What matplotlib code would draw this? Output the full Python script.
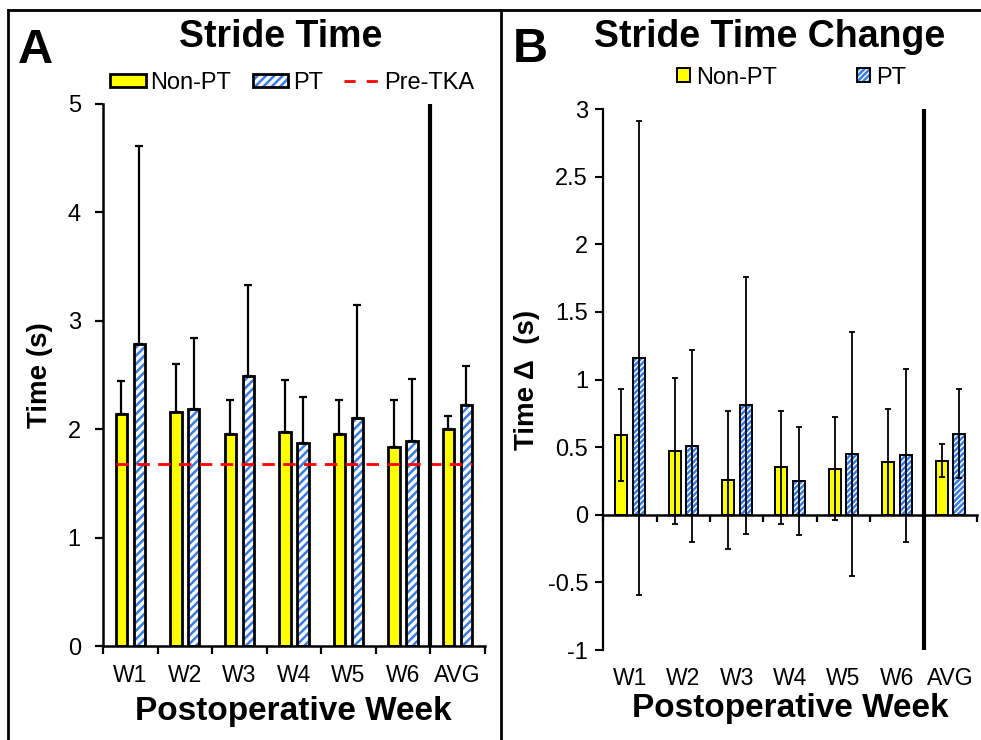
import numpy as np
import matplotlib
matplotlib.use("Agg")
import matplotlib.pyplot as plt
from matplotlib.lines import Line2D
from matplotlib.transforms import blended_transform_factory

plt.rcParams["font.family"] = ["Liberation Sans", "DejaVu Sans"]
plt.rcParams["hatch.linewidth"] = 1.8

# --- data ---
weeks = ["W1", "W2", "W3", "W4", "W5", "W6", "AVG"]

# panel A: stride time (s), mean and upper SD
a_nonpt = [2.14, 2.16, 1.96, 1.97, 1.96, 1.84, 2.00]
a_nonpt_sd = [0.30, 0.44, 0.31, 0.48, 0.31, 0.43, 0.12]
a_pt = [2.79, 2.19, 2.49, 1.87, 2.10, 1.89, 2.22]
a_pt_sd = [1.82, 0.65, 0.84, 0.43, 1.05, 0.57, 0.36]
pre_tka = 1.68

# panel B: stride time change (s), mean and SD
b_nonpt = [0.59, 0.47, 0.26, 0.35, 0.34, 0.39, 0.40]
b_nonpt_sd = [0.34, 0.54, 0.51, 0.42, 0.38, 0.39, 0.12]
b_pt = [1.16, 0.51, 0.81, 0.25, 0.45, 0.44, 0.60]
b_pt_sd = [1.75, 0.71, 0.95, 0.40, 0.90, 0.64, 0.33]

YELLOW = "#FFFF00"
BLUE = "#3A7CE0"

x = np.arange(len(weeks))
off = 0.165

fig = plt.figure(figsize=(9.81, 7.40), dpi=100)
axA = fig.add_axes([0.105, 0.127, 0.389, 0.7325])
axB = fig.add_axes([0.615, 0.1216, 0.381, 0.7311])


def hatched_bars(ax, xs, vals, w, hatch, lw):
    h = ax.bar(xs, vals, w, facecolor="white", edgecolor=BLUE, hatch=hatch,
               linewidth=0, zorder=2)
    o = ax.bar(xs, vals, w, fill=False, edgecolor="black", linewidth=lw, zorder=2.5)
    return h, o


# ---------------- panel A ----------------
wA = 0.21
nA = axA.bar(x - off, a_nonpt, wA, color=YELLOW, edgecolor="black", linewidth=2, zorder=2)
hA, oA = hatched_bars(axA, x + off, a_pt, wA, "////", 2)
axA.errorbar(x - off, a_nonpt, yerr=[np.zeros(len(x)), a_nonpt_sd], fmt="none",
             ecolor="black", elinewidth=1.6, capsize=3, capthick=1.6, zorder=3)
axA.errorbar(x + off, a_pt, yerr=[np.zeros(len(x)), a_pt_sd], fmt="none",
             ecolor="black", elinewidth=1.6, capsize=3, capthick=1.6, zorder=3)
preA = axA.hlines(pre_tka, x[0] - off - wA / 2, x[-1] + off + wA / 2, colors="red",
                  linestyles=(0, (4.5, 3)), linewidth=2, zorder=4)
axA.axvline(5.5, color="black", linewidth=3, zorder=4)

axA.set_xlim(-0.5, 6.5)
axA.set_ylim(0, 5)
axA.set_yticks(range(6))
axA.set_xticks(np.arange(-0.5, 7, 1))
axA.set_xticklabels([])
axA.set_xticks(x, minor=True)
axA.set_xticklabels(weeks, minor=True)
axA.tick_params(axis="x", which="minor", length=0, pad=13, labelsize=16.5)
axA.tick_params(axis="x", which="major", length=6, width=1.6, direction="out")
axA.tick_params(axis="y", length=6, width=1.6, direction="out", pad=10, labelsize=17)
for s in ["top", "right"]:
    axA.spines[s].set_visible(False)
for s in ["left", "bottom"]:
    axA.spines[s].set_linewidth(1.8)
axA.set_ylabel("Time (s)", fontsize=20, fontweight="bold", va="center")
axA.yaxis.set_label_coords(-0.165, 0.5)
axA.set_xlabel("Postoperative Week", fontsize=24, fontweight="bold", va="baseline")
axA.xaxis.set_label_coords(0.5, -0.1365)

legA = axA.legend([nA, (hA, oA), Line2D([0], [0], color="red", lw=2, ls=(0, (4, 4)))],
                  ["Non-PT", "PT", "Pre-TKA"], ncol=3, frameon=False, fontsize=17,
                  loc="center", bbox_to_anchor=(0.298, 0.888), bbox_transform=fig.transFigure,
                  handlelength=1.5, handleheight=0.5, handletextpad=0.2, columnspacing=0.9,
                  borderaxespad=0, borderpad=0)

# ---------------- panel B ----------------
wB = 0.225
nB = axB.bar(x - off, b_nonpt, wB, color=YELLOW, edgecolor="black", linewidth=1.4, zorder=2)
hB, oB = hatched_bars(axB, x + off, b_pt, wB, "//////", 1.4)
axB.errorbar(x - off, b_nonpt, yerr=b_nonpt_sd, fmt="none", ecolor="black",
             elinewidth=1.3, capsize=2.5, capthick=1.3, zorder=3)
axB.errorbar(x + off, b_pt, yerr=b_pt_sd, fmt="none", ecolor="black",
             elinewidth=1.3, capsize=2.5, capthick=1.3, zorder=3)
axB.axvline(5.5, color="black", linewidth=3, zorder=4)

axB.set_xlim(-0.5, 6.5)
axB.set_ylim(-1, 3)
axB.set_yticks(np.arange(-1, 3.01, 0.5))
axB.set_yticklabels(["-1", "-0.5", "0", "0.5", "1", "1.5", "2", "2.5", "3"])
axB.set_xticks(np.arange(-0.5, 7, 1))
axB.set_xticklabels([])
axB.tick_params(axis="x", length=5, width=1.6, direction="out")
axB.tick_params(axis="y", length=6, width=1.5, direction="out", pad=5, labelsize=17)
for s in ["top", "right"]:
    axB.spines[s].set_visible(False)
axB.spines["bottom"].set_position(("data", 0))
axB.spines["bottom"].set_linewidth(1.8)
axB.spines["left"].set_linewidth(1.6)
trB = blended_transform_factory(axB.transData, axB.transAxes)
for xi, lbl in zip(x, weeks):
    axB.text(xi, -0.032, lbl, transform=trB, ha="center", va="top", fontsize=16.5)
axB.set_ylabel("Time Δ  (s)", fontsize=20, fontweight="bold", va="center")
axB.yaxis.set_label_coords(-0.203, 0.5)
axB.set_xlabel("Postoperative Week", fontsize=24, fontweight="bold", va="baseline")
axB.xaxis.set_label_coords(0.5, -0.124)

legB = axB.legend([nB, (hB, oB)], ["Non-PT", "PT"], ncol=2, frameon=False, fontsize=17,
                  loc="center", bbox_to_anchor=(0.807, 0.895), bbox_transform=fig.transFigure,
                  handlelength=0.55, handleheight=0.55, handletextpad=0.25, columnspacing=3.4,
                  borderaxespad=0, borderpad=0)

# ---------------- titles, panel letters, frame ----------------
fig.text(0.286, 0.9365, "Stride Time", ha="center", va="baseline", fontsize=27, fontweight="bold")
fig.text(0.785, 0.9365, "Stride Time Change", ha="center", va="baseline", fontsize=27,
         fontweight="bold")
fig.text(0.0185, 0.915, "A", ha="left", va="baseline", fontsize=35, fontweight="bold")
fig.text(0.523, 0.916, "B", ha="left", va="baseline", fontsize=35, fontweight="bold")

for (x0, y0, x1, y1) in [(0.008, 0.0, 0.008, 0.9865), (0.008, 0.9865, 1.0, 0.9865),
                         (0.5107, 0.0, 0.5107, 0.9865)]:
    fig.add_artist(Line2D([x0, x1], [y0, y1], color="black", linewidth=2,
                          transform=fig.transFigure))

fig.savefig("out.png", dpi=100)
